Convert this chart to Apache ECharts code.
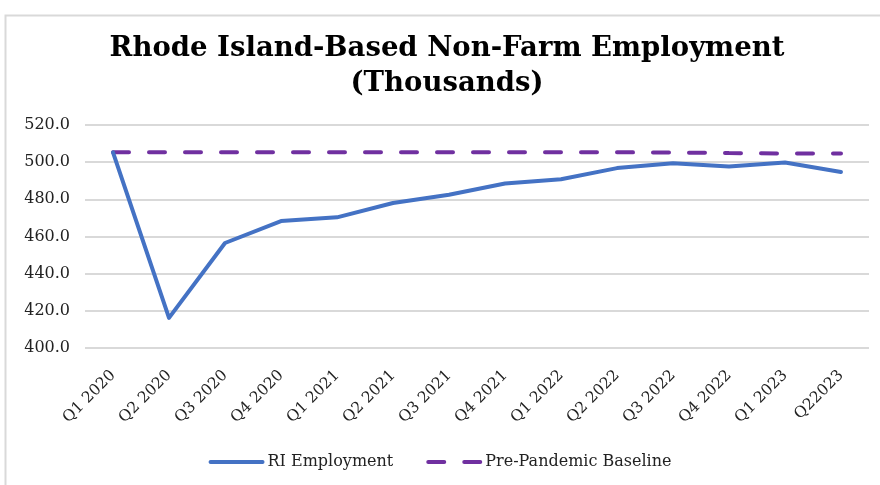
<!DOCTYPE html>
<html>
<head>
<meta charset="utf-8">
<script src="https://cdn.jsdelivr.net/npm/echarts@6/dist/echarts.min.js"></script>
<style>
  html, body { margin: 0; padding: 0; background: #fff; }
  #chart { width: 880px; height: 485px; }
</style>
</head>
<body>
<div id="chart"></div>
<script>
// Quarterly non-farm employment in Rhode Island, thousands of jobs
const quarters = ['Q1 2020', 'Q2 2020', 'Q3 2020', 'Q4 2020', 'Q1 2021', 'Q2 2021', 'Q3 2021',
  'Q4 2021', 'Q1 2022', 'Q2 2022', 'Q3 2022', 'Q4 2022', 'Q1 2023', 'Q22023'];
const riEmployment = [505.3, 416.2, 456.5, 468.3, 470.3, 478.0, 482.5, 488.5, 490.8, 496.8, 499.4, 497.7, 499.8, 494.7];
const preBaseline = [505.3, 505.3, 505.3, 505.3, 505.3, 505.3, 505.3, 505.3, 505.3, 505.3, 505.2, 504.9, 504.7, 504.7];
const titleText = 'Rhode Island-Based Non-Farm Employment\n(Thousands)';

const serif = '"DejaVu Serif", "Liberation Serif", serif';

const chart = echarts.init(document.getElementById('chart'));
chart.setOption({
  backgroundColor: '#ffffff',
  animation: false,
  graphic: [
    {
      // light frame around the chart area
      type: 'rect',
      left: 3, top: 13,
      shape: { width: 900, height: 500 },
      style: { fill: 'none', stroke: '#d9d9d9', lineWidth: 2 },
      silent: true
    },
    {
      // two-line centred heading
      type: 'text',
      x: 447,
      y: 31,
      silent: true,
      style: {
        text: titleText,
        align: 'center',
        verticalAlign: 'top',
        fontFamily: serif,
        fontWeight: 'bold',
        fontSize: 27.5,
        lineHeight: 35,
        fill: '#000'
      }
    }
  ],
  legend: {
    bottom: 10,
    left: 'center',
    itemWidth: 52,
    itemHeight: 10,
    itemGap: 33,
    itemStyle: { opacity: 0 },
    lineStyle: { width: 4 },
    textStyle: { fontFamily: serif, fontSize: 16, color: '#222' },
    data: ['RI Employment', 'Pre-Pandemic Baseline']
  },
  grid: { left: 85, right: 11, top: 125, bottom: 137 },
  xAxis: {
    type: 'category',
    data: quarters,
    boundaryGap: true,
    axisLine: { show: false },
    axisTick: { show: false },
    axisLabel: {
      rotate: 45,
      margin: 25,
      interval: 0,
      fontFamily: serif,
      fontSize: 15.5,
      color: '#222'
    }
  },
  yAxis: {
    type: 'value',
    min: 400,
    max: 520,
    interval: 20,
    axisLine: { show: false },
    axisTick: { show: false },
    axisLabel: {
      formatter: v => v.toFixed(1),
      margin: 15,
      fontFamily: serif,
      fontSize: 16,
      color: '#222'
    },
    splitLine: { lineStyle: { color: '#d9d9d9', width: 2 } }
  },
  series: [
    {
      name: 'RI Employment',
      type: 'line',
      data: riEmployment,
      symbol: 'none',
      z: 3,
      lineStyle: { color: '#4472C4', width: 4, cap: 'round', join: 'round' },
      itemStyle: { color: '#4472C4' }
    },
    {
      name: 'Pre-Pandemic Baseline',
      type: 'line',
      data: preBaseline,
      symbol: 'none',
      z: 2,
      lineStyle: { color: '#7030A0', width: 4, type: [16, 20], cap: 'round' },
      itemStyle: { color: '#7030A0' }
    }
  ]
});
</script>
</body>
</html>
